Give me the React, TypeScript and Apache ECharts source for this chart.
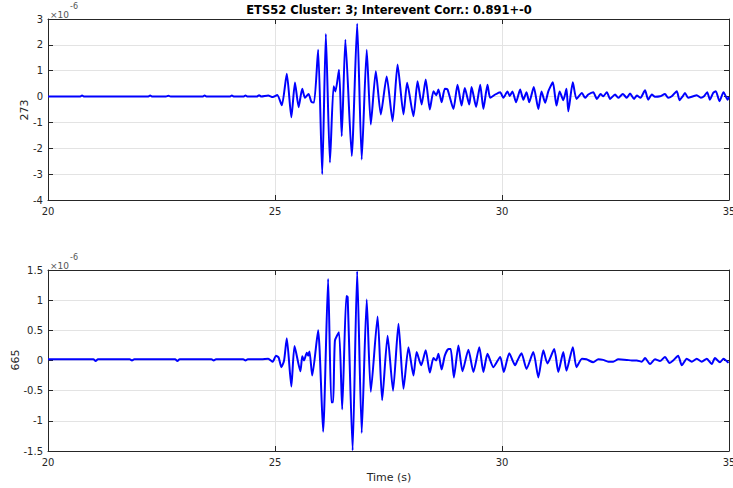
import React, { useEffect, useRef } from "react";
import * as echarts from "echarts";

// Station 273 trace (time in s, amplitude in units of 1e-6)
const trace273Time = [
  20.0, 20.7, 20.75, 20.8, 21.5, 22.2, 22.25, 22.3, 22.6, 22.65, 22.7, 23.4, 23.45, 23.5, 24.0, 24.05, 24.1, 24.3,
  24.35, 24.4, 24.6, 24.65, 24.7, 24.85, 24.95,
  25.05, 25.15, 25.26, 25.36, 25.44, 25.52, 25.6, 25.66, 25.74, 25.8, 25.86, 25.95, 26.04, 26.12, 26.21, 26.29,
  26.33, 26.41, 26.47, 26.55, 26.69, 26.81, 26.91, 27.02, 27.11, 27.22, 27.33, 27.46, 27.59, 27.7, 27.83, 27.91,
  28.05, 28.14, 28.23, 28.32, 28.41, 28.49, 28.55, 28.6, 28.67, 28.74, 28.8, 28.93, 29.02, 29.11, 29.18, 29.28,
  29.33, 29.43, 29.52, 29.59, 29.68, 29.74, 29.85, 29.96, 30.03, 30.12, 30.17, 30.23, 30.31, 30.4, 30.47, 30.54,
  30.6, 30.7, 30.8, 30.87, 30.95, 31.02, 31.12, 31.2, 31.27, 31.35, 31.42, 31.46, 31.56, 31.64, 31.76, 31.83,
  31.9, 32.01, 32.09, 32.17, 32.23, 32.31, 32.38, 32.49, 32.56, 32.66, 32.75, 32.82, 32.91, 32.97, 33.05, 33.15,
  33.22, 33.3, 33.37, 33.48, 33.59, 33.66, 33.74, 33.85, 33.91, 33.98, 34.03, 34.1, 34.21, 34.29, 34.38, 34.45,
  34.52, 34.58, 34.65, 34.71, 34.79, 34.88, 34.97, 35.0,
];
const trace273Amp = [
  0.0, 0.0, 0.04, 0.0, 0.0, 0.0, 0.04, 0.0, 0.0, 0.03, 0.0, 0.0, 0.04, 0.0, 0.0, 0.04, 0.0, 0.0,
  0.04, 0.0, 0.0, 0.05, 0.0, 0.04, -0.02,
  0.06, -0.34, 0.88, -0.8, 0.54, -0.41, 0.3, -0.05, 0.1, -0.2, -0.23, 1.81, -3.0, 2.42, -2.55, 0.4,
  0.2, 1.04, -1.53, 2.2, -2.3, 2.82, -2.43, 1.81, -1.08, 0.98, -0.69, 0.78, -0.95, 1.24, -0.69, 0.53,
  -0.76, 0.59, -0.31, 0.66, -0.5, 0.21, 0.05, 0.27, -0.22, 0.3, 0.28, -0.48, 0.46, -0.35, 0.33, -0.31,
  0.37, -0.4, 0.46, -0.48, 0.46, -0.05, 0.08, 0.17, -0.05, 0.2, 0.02, 0.2, -0.22, 0.27, -0.12, 0.17,
  -0.22, 0.37, -0.48, 0.2, -0.24, 0.2, 0.55, -0.35, 0.2, -0.14, 0.3, -0.57, 0.55, -0.09, 0.14, -0.05,
  0.08, 0.17, -0.09, 0.1, 0.01, 0.17, -0.09, 0.08, -0.05, 0.1, -0.05, 0.12, -0.09, 0.04, -0.05, 0.24,
  -0.12, 0.08, -0.01, 0.01, 0.1, -0.05, 0.01, 0.21, -0.14, 0.01, 0.14, -0.05, 0.01, 0.05, -0.05, 0.01,
  0.17, -0.12, 0.14, 0.21, -0.18, 0.17, -0.12, -0.01,
];

// Station 665 trace (time in s, amplitude in units of 1e-6)
const trace665Time = [
  20.0, 21.0, 21.05, 21.1, 21.8, 21.85, 21.9, 22.8, 22.85, 22.9, 23.6, 23.65, 23.7, 24.3, 24.35, 24.4, 24.7, 24.85,
  24.95, 25.02, 25.08, 25.14,
  25.2, 25.26, 25.36, 25.43, 25.56, 25.6, 25.64, 25.7, 25.73, 25.76, 25.82, 25.95, 26.06, 26.17, 26.24, 26.28,
  26.32, 26.41, 26.48, 26.57, 26.6, 26.71, 26.81, 26.91, 27.02, 27.11, 27.26, 27.36, 27.48, 27.6, 27.72, 27.83,
  27.94, 28.05, 28.12, 28.22, 28.32, 28.41, 28.49, 28.55, 28.6, 28.67, 28.74, 28.82, 28.87, 28.94, 29.04, 29.13,
  29.26, 29.37, 29.5, 29.59, 29.68, 29.81, 29.96, 30.04, 30.16, 30.29, 30.34, 30.43, 30.54, 30.69, 30.8, 30.91,
  31.0, 31.15, 31.24, 31.35, 31.42, 31.56, 31.64, 31.76, 31.86, 32.01, 32.12, 32.23, 32.34, 32.45, 32.56, 32.75,
  32.86, 32.97, 33.08, 33.15, 33.26, 33.37, 33.48, 33.59, 33.69, 33.77, 33.88, 33.96, 34.07, 34.18, 34.29, 34.4,
  34.51, 34.62, 34.69, 34.8, 34.88, 34.99,
];
const trace665Amp = [
  0.02, 0.02, -0.01, 0.02, 0.02, 0.0, 0.02, 0.02, -0.01, 0.02, 0.02, 0.0, 0.02, 0.02, 0.0, 0.02, 0.02, 0.03,
  -0.02, 0.08, 0.05, -0.11,
  0.0, 0.37, -0.43, 0.24, -0.18, 0.07, 0.0, 0.13, 0.08, 0.15, -0.25, 0.5, -1.18, 1.35, -0.69, -0.69,
  0.33, 0.47, -0.81, 1.07, 1.05, -1.49, 1.48, -1.2, 1.01, -0.52, 0.73, -0.66, 0.41, -0.5, 0.61, -0.47,
  0.22, -0.25, 0.14, -0.08, 0.17, -0.2, 0.04, 0.0, 0.11, -0.15, 0.08, 0.19, 0.19, -0.28, 0.25, -0.18,
  0.18, -0.19, 0.22, -0.19, 0.11, -0.11, 0.06, -0.19, 0.12, -0.08, 0.0, 0.12, -0.14, 0.14, -0.28, 0.17,
  -0.05, 0.19, -0.19, 0.14, -0.17, 0.22, -0.11, 0.03, 0.02, -0.03, 0.02, 0.01, -0.02, -0.02, 0.02, 0.01,
  0.0, 0.0, -0.02, 0.04, -0.06, 0.02, -0.01, 0.06, -0.04, 0.0, 0.08, -0.08, 0.03, -0.02, 0.03, -0.02,
  0.03, -0.06, 0.04, -0.03, 0.03, -0.04,
];

const xTicks = { min: 20, max: 35, interval: 5 };
const y273Ticks = { min: -4, max: 3, interval: 1 };
const y665Ticks = { min: -1.5, max: 1.5, interval: 0.5 };

const titleText = "ETS52 Cluster: 3; Interevent Corr.: 0.891+-0";
const ylabelTop = "273";
const ylabelBottom = "665";
const xlabel = "Time (s)";
const scaleBase = "×10";
const scaleExp = "-6";

const FONT = "DejaVu Sans";
const TXT = "#262626";
const GRIDC = "#e3e3e3";

function pairs(t: number[], v: number[]) {
  return t.map((x, i) => [x, v[i]]);
}

export default function App() {
  const ref = useRef<HTMLDivElement>(null);
  useEffect(() => {
    if (!ref.current) return;
    const chart = echarts.init(ref.current, null, { renderer: "svg" });

    const mainX = (gi: number) => ({
      type: "value",
      gridIndex: gi,
      position: "bottom",
      ...xTicks,
      axisLine: { show: true, onZero: false, lineStyle: { color: TXT, width: 1 } },
      axisTick: { show: true, inside: true, length: 5, lineStyle: { color: TXT } },
      axisLabel: { color: TXT, fontSize: 10, fontFamily: FONT, margin: 6 },
      splitLine: { show: true, lineStyle: { color: GRIDC, width: 1 } },
    });
    const topX = (gi: number) => ({
      type: "value",
      gridIndex: gi,
      position: "top",
      ...xTicks,
      axisLine: { show: true, onZero: false, lineStyle: { color: TXT, width: 1 } },
      axisTick: { show: true, inside: true, length: 5, lineStyle: { color: TXT } },
      axisLabel: { show: false },
      splitLine: { show: false },
    });
    const leftY = (gi: number, ticks: any) => ({
      type: "value",
      gridIndex: gi,
      position: "left",
      ...ticks,
      axisLine: { show: true, onZero: false, lineStyle: { color: TXT, width: 1 } },
      axisTick: { show: true, inside: true, length: 5, lineStyle: { color: TXT } },
      axisLabel: { color: TXT, fontSize: 10, fontFamily: FONT, margin: 5 },
      splitLine: { show: true, lineStyle: { color: GRIDC, width: 1 } },
    });
    const rightY = (gi: number, ticks: any) => ({
      type: "value",
      gridIndex: gi,
      position: "right",
      ...ticks,
      axisLine: { show: true, onZero: false, lineStyle: { color: TXT, width: 1 } },
      axisTick: { show: true, inside: true, length: 5, lineStyle: { color: TXT } },
      axisLabel: { show: false },
      splitLine: { show: false },
    });

    const scaleLabel = (yBase: number) => [
      {
        type: "text",
        x: 50,
        y: yBase + 2,
        style: { text: scaleBase, fontFamily: FONT, fontSize: 9, fill: "#555555", align: "left", verticalAlign: "middle" },
      },
      {
        type: "text",
        x: 70,
        y: yBase - 7,
        style: { text: scaleExp, fontFamily: FONT, fontSize: 8, fill: "#555555", align: "left", verticalAlign: "middle" },
      },
    ];

    const option: any = {
      animation: false,
      backgroundColor: "#ffffff",
      grid: [
        { left: 48, top: 19, width: 681, height: 181, outerBoundsMode: "none", containLabel: false },
        { left: 48, top: 270, width: 681, height: 181, outerBoundsMode: "none", containLabel: false },
      ],
      xAxis: [mainX(0), topX(0), mainX(1), topX(1)],
      yAxis: [leftY(0, y273Ticks), rightY(0, y273Ticks), leftY(1, y665Ticks), rightY(1, y665Ticks)],
      series: [
        {
          type: "line",
          xAxisIndex: 0,
          yAxisIndex: 0,
          data: pairs(trace273Time, trace273Amp),
          showSymbol: false,
          smooth: 0.2,
          lineStyle: { color: "#0000ff", width: 2 },
          itemStyle: { color: "#0000ff" },
        },
        {
          type: "line",
          xAxisIndex: 2,
          yAxisIndex: 2,
          data: pairs(trace665Time, trace665Amp),
          showSymbol: false,
          smooth: 0.2,
          lineStyle: { color: "#0000ff", width: 2 },
          itemStyle: { color: "#0000ff" },
        },
      ],
      graphic: [
        {
          type: "text",
          x: 389,
          y: 10,
          style: {
            text: titleText,
            fontFamily: FONT,
            fontSize: 11.5,
            fontWeight: "bold",
            fill: "#000000",
            align: "center",
            verticalAlign: "middle",
          },
        },
        ...scaleLabel(13),
        ...scaleLabel(264),
        {
          type: "text",
          x: 24,
          y: 110,
          rotation: Math.PI / 2,
          style: { text: ylabelTop, fontFamily: FONT, fontSize: 11, fill: TXT, align: "center", verticalAlign: "middle" },
        },
        {
          type: "text",
          x: 15,
          y: 360,
          rotation: Math.PI / 2,
          style: { text: ylabelBottom, fontFamily: FONT, fontSize: 11, fill: TXT, align: "center", verticalAlign: "middle" },
        },
        {
          type: "text",
          x: 389,
          y: 477,
          style: { text: xlabel, fontFamily: FONT, fontSize: 11, fill: TXT, align: "center", verticalAlign: "middle" },
        },
      ],
    };
    chart.setOption(option);
    return () => chart.dispose();
  }, []);
  return (
    <div
      ref={ref}
      style={{ position: "absolute", left: 0, top: 0, width: 733, height: 488, background: "#fff" }}
    />
  );
}
